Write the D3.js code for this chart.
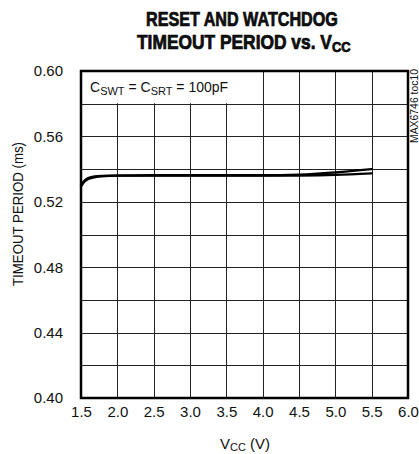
<!DOCTYPE html>
<html>
<head>
<meta charset="utf-8">
<script src="https://cdn.jsdelivr.net/npm/d3@7/dist/d3.min.js"></script>
<style>
  html, body { margin: 0; padding: 0; background: #fff; }
  svg { display: block; }
  text { font-family: "Liberation Sans", Arial, sans-serif; fill: #111; }
</style>
</head>
<body>
<svg id="chart" width="419" height="454"></svg>
<script>
// ---- data ----
const vcc = [1.5, 1.55, 1.6, 1.7, 1.8, 2.0, 2.5, 3.0, 3.5, 4.0, 4.5, 5.0, 5.5];
const periodUpper = [0.5295, 0.5325, 0.534, 0.5352, 0.5357, 0.5360, 0.5362, 0.5362, 0.5362, 0.5362, 0.5366, 0.5380, 0.5400];
const periodLower = [0.5305, 0.5330, 0.5345, 0.5355, 0.5358, 0.5360, 0.5360, 0.5360, 0.5360, 0.5360, 0.5361, 0.5365, 0.5374];
const xTicks = [1.5, 2.0, 2.5, 3.0, 3.5, 4.0, 4.5, 5.0, 5.5, 6.0];
const yTicks = [0.40, 0.44, 0.48, 0.52, 0.56, 0.60];
const yGrid = [0.42, 0.44, 0.46, 0.48, 0.50, 0.52, 0.54, 0.56, 0.58];

const svg = d3.select("#chart");
const L = 81, R = 408, T = 71, B = 398;
const x = d3.scaleLinear().domain([1.5, 6.0]).range([L, R]);
const y = d3.scaleLinear().domain([0.40, 0.60]).range([B, T]);

// fit a text horizontally into a target span (mimics a condensed face)
function fitX(sel, left, width) {
  const bb = sel.node().getBBox();
  const s = width / bb.width;
  sel.attr("transform", `translate(${left},0) scale(${s},1) translate(${-bb.x},0)`);
}

// title
const t1 = svg.append("text").attr("x", 0).attr("y", 26)
  .attr("font-weight", "bold").attr("font-size", 20).attr("fill", "#000")
  .attr("stroke", "#000").attr("stroke-width", 0.7)
  .text("RESET AND WATCHDOG");
fitX(t1, 146, 192);
const t2 = svg.append("text").attr("x", 0).attr("y", 49)
  .attr("font-weight", "bold").attr("font-size", 20).attr("fill", "#000")
  .attr("stroke", "#000").attr("stroke-width", 0.7);
t2.append("tspan").text("TIMEOUT PERIOD vs. V");
t2.append("tspan").attr("font-size", 15).attr("dy", 3).text("CC");
fitX(t2, 137, 214);

// grid
const g = svg.append("g");
g.selectAll(".vg").data(xTicks.slice(1, -1)).enter().append("line")
  .attr("x1", d => Math.round(x(d)) + 0.5).attr("x2", d => Math.round(x(d)) + 0.5)
  .attr("y1", T).attr("y2", B).attr("stroke", "#222").attr("stroke-width", 1);
g.selectAll(".hg").data(yGrid).enter().append("line")
  .attr("x1", L).attr("x2", R)
  .attr("y1", d => Math.round(y(d)) + 0.5).attr("y2", d => Math.round(y(d)) + 0.5)
  .attr("stroke", "#222").attr("stroke-width", 1);

// note box
svg.append("rect").attr("x", L + 1).attr("y", T + 1)
  .attr("width", x(4.0) - L - 1.5).attr("height", y(0.58) - T - 1.5).attr("fill", "#fff");
const note = svg.append("text").attr("x", 90).attr("y", 92).attr("font-size", 14);
note.append("tspan").text("C");
note.append("tspan").attr("font-size", 11).attr("dy", 3).text("SWT");
note.append("tspan").attr("dy", -3).text(" = C");
note.append("tspan").attr("font-size", 11).attr("dy", 3).text("SRT");
note.append("tspan").attr("dy", -3).text(" = 100pF");

// curves
const line = d3.line().x((d, i) => x(vcc[i])).y(d => y(d)).curve(d3.curveMonotoneX);
[periodUpper, periodLower].forEach(s => {
  svg.append("path").attr("d", line(s)).attr("fill", "none")
    .attr("stroke", "#000").attr("stroke-width", 2.4).attr("stroke-linecap", "round");
});

// frame
svg.append("rect").attr("x", L).attr("y", T).attr("width", R - L).attr("height", B - T)
  .attr("fill", "none").attr("stroke", "#000").attr("stroke-width", 2.5);

// axes (labels only)
const xAxis = svg.append("g").attr("transform", `translate(0,${B})`)
  .call(d3.axisBottom(x).tickValues(xTicks).tickFormat(d3.format(".1f")).tickSize(0).tickPadding(8));
xAxis.select(".domain").remove();
xAxis.selectAll("text").attr("font-size", 15).attr("font-family", null).attr("fill", "#111");

const yAxis = svg.append("g").attr("transform", `translate(${L},0)`)
  .call(d3.axisLeft(y).tickValues(yTicks).tickFormat(d3.format(".2f")).tickSize(0).tickPadding(18));
yAxis.select(".domain").remove();
yAxis.selectAll("text").attr("font-size", 15).attr("font-family", null).attr("fill", "#111");

// axis titles
const xl = svg.append("text").attr("x", 245).attr("y", 449).attr("text-anchor", "middle").attr("font-size", 15);
xl.append("tspan").text("V");
xl.append("tspan").attr("font-size", 11).attr("dy", 2).text("CC");
xl.append("tspan").attr("dy", -2).text(" (V)");

svg.append("text").attr("transform", `translate(23,214) rotate(-90)`)
  .attr("text-anchor", "middle").attr("font-size", 15)
  .attr("textLength", 144).attr("lengthAdjust", "spacingAndGlyphs")
  .text("TIMEOUT PERIOD (ms)");

svg.append("text").attr("transform", `translate(418,143) rotate(-90)`)
  .attr("text-anchor", "start").attr("font-size", 10).attr("fill", "#555")
  .attr("textLength", 74).attr("lengthAdjust", "spacingAndGlyphs")
  .text("MAX6746 toc10");
</script>
</body>
</html>
